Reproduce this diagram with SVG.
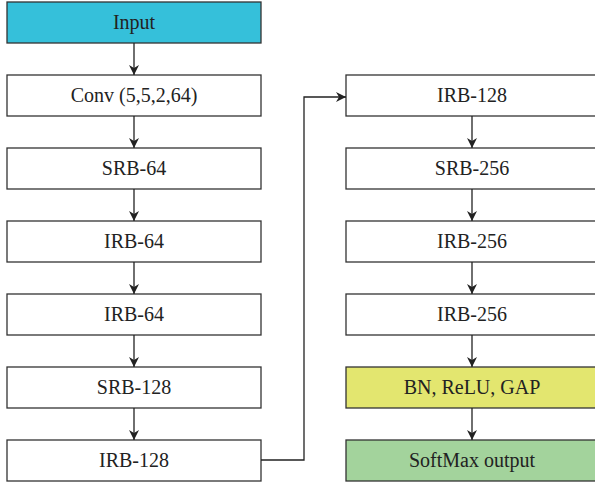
<svg xmlns="http://www.w3.org/2000/svg" width="595" height="483" viewBox="0 0 595 483">
<defs>
<marker id="ah" viewBox="0 0 10 10" refX="10" refY="5" markerWidth="10" markerHeight="10" markerUnits="userSpaceOnUse" orient="auto">
<path d="M0,0 L10,5 L0,10 L3,5 Z" fill="#222"/>
</marker>
</defs>
<style>
rect{stroke:#333;stroke-width:1.3;fill:#fff}
text{font-family:"Liberation Serif",serif;font-size:20px;fill:#222;text-anchor:middle}
.c{stroke:#222;stroke-width:1.3;fill:none;marker-end:url(#ah)}
</style>
<g id="input"><rect x="7" y="2" width="254" height="41" style="fill:#35C0DA"/><text x="134" y="29">Input</text></g>
<g id="conv"><rect x="7" y="75" width="254" height="41"/><text x="134" y="102">Conv (5,5,2,64)</text></g>
<g id="srb64"><rect x="7" y="148" width="254" height="41"/><text x="134" y="175">SRB-64</text></g>
<g id="irb64a"><rect x="7" y="221" width="254" height="41"/><text x="134" y="248">IRB-64</text></g>
<g id="irb64b"><rect x="7" y="294" width="254" height="41"/><text x="134" y="321">IRB-64</text></g>
<g id="srb128"><rect x="7" y="367" width="254" height="41"/><text x="134" y="394">SRB-128</text></g>
<g id="irb128a"><rect x="7" y="440" width="254" height="41"/><text x="134" y="467">IRB-128</text></g>
<g id="irb128b"><rect x="346" y="75" width="252" height="41"/><text x="472" y="102">IRB-128</text></g>
<g id="srb256"><rect x="346" y="148" width="252" height="41"/><text x="472" y="175">SRB-256</text></g>
<g id="irb256a"><rect x="346" y="221" width="252" height="41"/><text x="472" y="248">IRB-256</text></g>
<g id="irb256b"><rect x="346" y="294" width="252" height="41"/><text x="472" y="321">IRB-256</text></g>
<g id="bn"><rect x="346" y="367" width="252" height="41" style="fill:#E3E66F"/><text x="472" y="394">BN, ReLU, GAP</text></g>
<g id="softmax"><rect x="346" y="440" width="252" height="41" style="fill:#A3D39C"/><text x="472" y="467">SoftMax output</text></g>
<g id="connectors">
<line class="c" x1="134" y1="43" x2="134" y2="75"/>
<line class="c" x1="134" y1="116" x2="134" y2="148"/>
<line class="c" x1="134" y1="189" x2="134" y2="221"/>
<line class="c" x1="134" y1="262" x2="134" y2="294"/>
<line class="c" x1="134" y1="335" x2="134" y2="367"/>
<line class="c" x1="134" y1="408" x2="134" y2="440"/>
<polyline class="c" points="261,460 304,460 304,97 346,97"/>
<line class="c" x1="472" y1="116" x2="472" y2="148"/>
<line class="c" x1="472" y1="189" x2="472" y2="221"/>
<line class="c" x1="472" y1="262" x2="472" y2="294"/>
<line class="c" x1="472" y1="335" x2="472" y2="367"/>
<line class="c" x1="472" y1="408" x2="472" y2="440"/>
</g>
</svg>
